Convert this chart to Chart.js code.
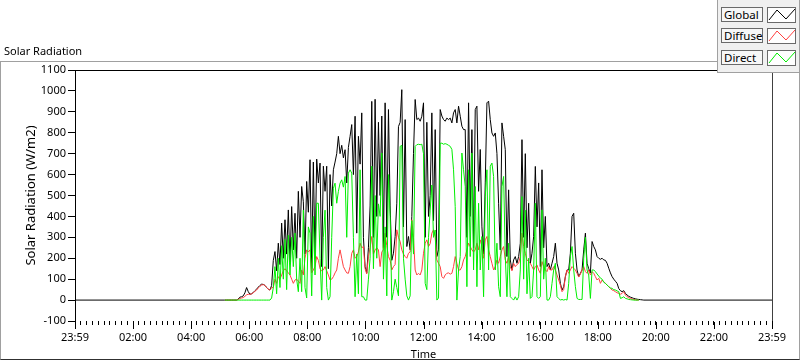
<!DOCTYPE html>
<html>
<head>
<meta charset="utf-8">
<script src="https://cdn.jsdelivr.net/npm/chart.js@4.4.0/dist/chart.umd.min.js"></script>
<style>
html,body{margin:0;padding:0;background:#fff;}
#wrap{position:relative;width:800px;height:361px;overflow:hidden;font-family:"Noto Sans",sans-serif;color:#000;}
#frame{position:absolute;left:0;top:61px;width:800px;height:299px;box-sizing:border-box;border:1px solid #a0a0a0;border-bottom-color:#303030;}
#chart{position:absolute;left:0;top:0;}
#title{position:absolute;left:4px;top:44px;font-size:11px;line-height:14px;white-space:nowrap;}
#legend{position:absolute;left:717px;top:-1px;width:83px;height:74px;box-sizing:border-box;background:#f0f0f0;border:1px solid #a0a0a0;}
.lab{position:absolute;left:3px;width:42px;height:15px;box-sizing:border-box;border:1px solid #6a6a6a;background:#f7f7f7;font-size:11.5px;line-height:13px;padding-left:2px;white-space:nowrap;}
.smp{position:absolute;left:49px;width:29px;height:16px;box-sizing:border-box;border:1px solid #6a6a6a;background:#fff;}
.smp svg{position:absolute;left:0;top:0;}
</style>
</head>
<body>
<div id="wrap">
  <div id="frame"></div>
  <canvas id="chart" width="800" height="361"></canvas>
  <div id="title">Solar Radiation</div>
  <div id="legend"></div>
</div>
<script>
// ---- data (W/m2), sampled every STEP_MIN minutes starting at START_MIN ----
const START_MIN = 309.7;
const STEP_MIN = 3.448;
const DAY_MIN = 0;
const DAY_MAX = 1440;

const seriesNames = ['Global', 'Diffuse', 'Direct'];
const seriesColors = ['#000000', '#ff4040', '#00ee00'];

const globalVals = [
  0,0,0,0,0,0,0,0,5,14,16,20,35,60,40,28,30,36,45,52,62,70,76,75,70,60,52,48,70,190,232,140,272,170,368,200,384,220,431,180,447,240,
  415,200,520,300,543,470,220,567,420,671,150,660,200,674,560,655,160,640,520,640,150,600,450,623,660,700,783,700,740,680,719,560,730,783,839,600,879,320,783,650,895,300,
  160,130,250,450,950,300,960,400,850,500,880,250,943,300,911,450,190,224,304,463,830,850,1006,350,863,256,304,240,400,700,959,863,870,855,879,943,300,850,400,500,895,380,
  815,208,240,911,880,863,855,870,863,870,847,895,911,847,927,879,831,815,815,300,943,400,815,250,911,927,520,720,350,220,560,943,951,863,799,783,799,700,463,240,847,783,
  719,208,527,192,144,192,208,176,208,272,767,300,700,250,463,176,224,304,639,350,560,160,623,250,400,160,176,144,176,208,272,176,144,80,48,64,112,144,144,224,400,415,
  224,144,112,128,144,240,320,176,150,130,280,256,240,208,200,195,200,192,190,176,152,130,112,100,90,80,55,45,40,45,32,24,18,14,11,8,6,4,3,2,1,0
];

const diffuseVals = [
  0,0,0,0,0,0,0,0,3,8,10,12,18,25,28,27,30,35,42,48,58,66,72,74,70,60,52,48,60,60,100,80,112,100,120,140,150,140,130,120,100,80,
  96,100,90,80,144,120,200,240,230,240,130,144,160,208,190,150,140,144,160,140,120,96,100,112,130,144,200,240,200,160,144,130,128,160,224,240,200,208,230,272,250,256,
  150,125,208,250,304,220,240,250,240,160,230,240,320,260,208,190,144,160,170,336,300,280,240,220,208,200,224,230,384,300,144,120,128,120,144,224,272,288,256,270,320,336,
  304,192,176,160,112,104,120,128,130,124,128,160,208,176,144,144,160,192,208,240,272,256,240,230,240,272,240,288,256,200,288,304,240,208,176,144,160,192,176,208,240,256,
  192,176,208,160,140,176,160,170,176,208,320,256,224,192,184,176,160,144,160,168,144,128,184,160,144,136,160,144,144,160,144,120,96,72,40,50,112,144,128,144,160,152,
  144,128,110,124,144,160,136,128,144,120,136,128,112,96,104,80,96,88,80,72,64,56,48,45,40,35,32,28,32,40,24,16,11,8,5,3,1,0,0
];

const directVals = [
  0,0,0,0,0,0,0,0,0,0,0,0,0,0,0,0,0,0,0,0,0,0,0,0,0,0,0,0,10,60,160,30,200,60,260,100,290,50,310,120,300,160,
  320,100,40,200,40,430,60,10,350,320,20,400,120,463,463,200,0,300,430,60,0,16,300,535,559,463,520,559,575,540,591,300,607,623,607,300,16,220,30,623,16,16,
  0,0,100,200,640,150,500,200,460,400,703,100,350,20,600,400,0,40,100,60,20,735,740,200,100,20,0,20,380,220,735,743,745,743,745,700,80,50,300,430,550,300,
  335,0,10,750,750,745,748,745,740,735,720,623,447,0,144,208,703,623,543,64,623,208,703,144,543,64,463,144,304,16,495,623,144,640,655,591,144,272,64,16,543,591,
  208,16,272,16,8,0,16,0,16,144,495,100,430,30,200,8,16,144,463,16,8,16,431,100,200,0,0,16,80,144,176,16,8,0,3,0,3,0,80,208,256,144,
  64,8,3,3,3,200,300,144,120,8,144,144,136,125,115,105,100,85,80,72,64,58,56,50,48,44,40,8,11,16,8,6,3,2,1,0,0,0,0
];

const xTickLabels = ['23:59','02:00','04:00','06:00','08:00','10:00','12:00','14:00','16:00','18:00','20:00','22:00','23:59'];
const MAJOR_STEP = 120;
const MINOR_STEP = 12;
const yMin = -100, yMax = 1100, yStep = 100;

function toPoints(vals) {
  return vals.map((v, i) => ({ x: START_MIN + i * STEP_MIN, y: v }));
}
const globalData = [{ x: DAY_MIN, y: 0 }, ...toPoints(globalVals), { x: DAY_MAX, y: 0 }];

// ---- legend (HTML, real text) ----
const legend = document.getElementById('legend');
const rowTops = [7, 28, 50];
seriesNames.forEach((n, i) => {
  const lab = document.createElement('div');
  lab.className = 'lab'; lab.style.top = rowTops[i] + 'px'; lab.textContent = n;
  legend.appendChild(lab);
  const s = document.createElement('div');
  s.className = 'smp'; s.style.top = rowTops[i] + 'px';
  s.innerHTML = '<svg width="27" height="14"><polyline points="1,12 9,2 18,11 27,1" fill="none" stroke="' + seriesColors[i] + '" stroke-width="1"/></svg>';
  legend.appendChild(s);
});

const font = { family: 'Noto Sans', size: 11 };

const framePlugin = {
  id: 'framePlugin',
  afterDraw(chart) {
    const { ctx, chartArea: a, scales } = chart;
    const x = scales.x;
    ctx.save();
    ctx.lineWidth = 1;
    ctx.strokeStyle = '#000';
    ctx.beginPath(); ctx.moveTo(a.left, a.top + 0.5); ctx.lineTo(a.right + 1, a.top + 0.5); ctx.stroke();
    ctx.strokeStyle = '#404040';
    ctx.beginPath(); ctx.moveTo(a.right + 0.5, a.top); ctx.lineTo(a.right + 0.5, a.bottom); ctx.stroke();
    ctx.strokeStyle = '#000';
    for (let v = DAY_MIN; v <= DAY_MAX; v += MAJOR_STEP) {
      const px = Math.round(x.getPixelForValue(v)) + 0.5;
      ctx.beginPath(); ctx.moveTo(px, a.bottom + 1); ctx.lineTo(px, a.bottom + 8); ctx.stroke();
    }
    ctx.restore();
  }
};

new Chart(document.getElementById('chart'), {
  type: 'line',
  data: {
    datasets: [
      { label: seriesNames[0], data: globalData, borderColor: seriesColors[0], order: 3 },
      { label: seriesNames[1], data: toPoints(diffuseVals), borderColor: seriesColors[1], order: 2 },
      { label: seriesNames[2], data: toPoints(directVals), borderColor: seriesColors[2], order: 1 }
    ]
  },
  options: {
    responsive: false,
    animation: false,
    devicePixelRatio: 1,
    layout: { padding: { left: 0, top: 70, right: 28, bottom: 0 } },
    elements: {
      line: { borderWidth: 1, tension: 0, fill: false },
      point: { radius: 0, hoverRadius: 0 }
    },
    plugins: { legend: { display: false }, tooltip: { enabled: false } },
    events: [],
    scales: {
      x: {
        type: 'linear', min: DAY_MIN, max: DAY_MAX,
        afterFit: s => { s.height = 40; },
        border: { display: false },
        grid: { drawOnChartArea: false, drawTicks: true, tickLength: 4, color: '#000', tickColor: '#000' },
        ticks: {
          stepSize: MINOR_STEP, autoSkip: false, maxRotation: 0, minRotation: 0,
          padding: 6, color: '#000', font,
          callback: v => (v % MAJOR_STEP === 0 ? xTickLabels[v / MAJOR_STEP] : '')
        },
        title: { display: true, text: 'Time', color: '#000', font, padding: { top: 0, bottom: 0 } }
      },
      y: {
        min: yMin, max: yMax,
        afterFit: s => { s.width = 75; },
        border: { display: true, color: '#000', width: 1 },
        grid: { drawOnChartArea: false, drawTicks: true, tickLength: 7, color: '#000', tickColor: '#000' },
        ticks: { stepSize: yStep, padding: 2, color: '#000', font, callback: v => String(v) },
        title: { display: true, text: 'Solar Radiation (W/m2)', color: '#000', font: { family: 'Noto Sans', size: 13 }, padding: { top: 23, bottom: 0 } }
      }
    }
  },
  plugins: [framePlugin]
});
</script>
</body>
</html>
